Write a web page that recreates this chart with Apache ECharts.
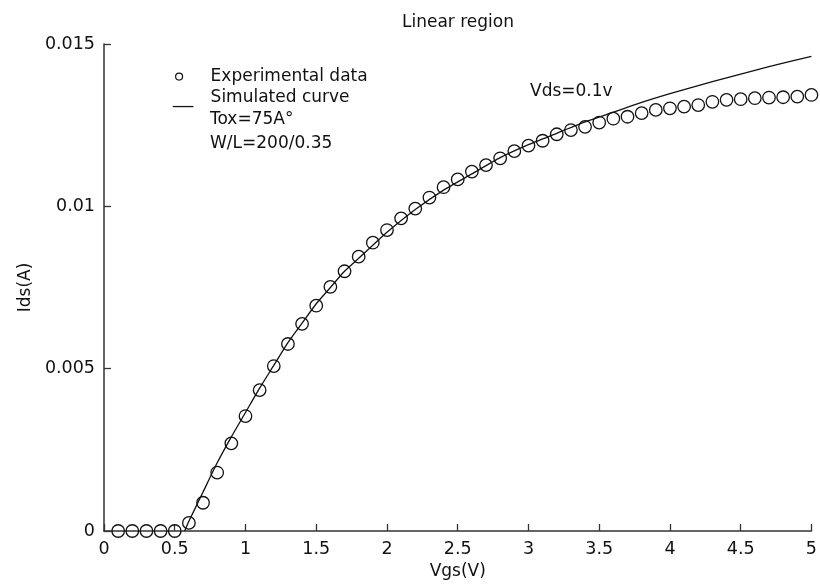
<!DOCTYPE html>
<html>
<head>
<meta charset="utf-8">
<script src="https://cdn.jsdelivr.net/npm/echarts@6/dist/echarts.min.js"></script>
<style>html,body{margin:0;padding:0;background:#fff}#c{width:820px;height:586px}</style>
</head>
<body>
<div id="c"></div>
<script>
const vgsExp = [0.1,0.2,0.3,0.4,0.5,0.6,0.7,0.8,0.9,1.0,1.1,1.2,1.3,1.4,1.5,1.6,1.7,1.8,1.9,2.0,2.1,2.2,2.3,2.4,2.5,2.6,2.7,2.8,2.9,3.0,3.1,3.2,3.3,3.4,3.5,3.6,3.7,3.8,3.9,4.0,4.1,4.2,4.3,4.4,4.5,4.6,4.7,4.8,4.9,5.0];
const idsExp = [0,0,0,0,0,0.00025,0.00087,0.0018,0.0027,0.00354,0.00434,0.00508,0.00576,0.00638,0.00694,0.00752,0.0080,0.00845,0.00888,0.00927,0.00963,0.00993,0.01027,0.01059,0.01083,0.01107,0.01127,0.01148,0.0117,0.01187,0.01202,0.01222,0.01235,0.01245,0.01258,0.0127,0.01276,0.01287,0.01297,0.01302,0.01307,0.01312,0.01322,0.01328,0.0133,0.01333,0.01335,0.01336,0.01338,0.01343];
const vgsSim = [0.57,0.6,0.7,0.8,0.9,1.0,1.1,1.2,1.3,1.4,1.5,1.6,1.7,1.8,1.9,2.0,2.2,2.4,2.6,2.8,3.0,3.2,3.4,3.6,3.8,4.0,4.2,4.4,4.6,4.8,5.0];
const idsSim = [0,0.0003,0.0012,0.0021,0.0029,0.00365,0.0044,0.0051,0.0058,0.0064,0.0070,0.0075,0.0080,0.0084,0.0088,0.0092,0.0099,0.0105,0.0110,0.0115,0.0119,0.01225,0.0126,0.0129,0.0132,0.01347,0.01372,0.01396,0.01419,0.01441,0.01462];
const xTicks = {min:0, max:5, interval:0.5};
const yTicks = {min:0, max:0.015, interval:0.005};
const titleText = 'Linear region';
const xName = 'Vgs(V)';
const yName = 'Ids(A)';
const expName = 'Experimental data';
const simName = 'Simulated curve';
const noteLines = ['Tox=75A\u00b0', 'W/L=200/0.35'];
const vdsNote = 'Vds=0.1v';

const FONT = 'DejaVu Sans';
const chart = echarts.init(document.getElementById('c'), null, {renderer:'canvas'});
chart.setOption({
  backgroundColor:'#fff',
  animation:false,
  title:{text:titleText, left:453, textAlign:'center', top:9,
    textStyle:{fontFamily:FONT, fontSize:17, fontWeight:'normal', color:'#111'}},
  grid:{left:104, right:8, top:44, bottom:55, containLabel:false},
  legend:{
    orient:'vertical', left:167, top:61, itemGap:0, itemWidth:21, itemHeight:20,
    textStyle:{fontFamily:FONT, fontSize:17, color:'#111', lineHeight:20, padding:[0,0,0,12]},
    data:[
      {name:expName, icon:'path://M0,0 M21,20 M10,10 A3.5,3.5 0 1,0 3,10 A3.5,3.5 0 1,0 10,10 Z',
        itemStyle:{color:'rgba(0,0,0,0)', borderColor:'#111', borderWidth:1.2}},
      {name:simName, icon:'path://M0,0 M0,19 L21,19 L21,20.3 L0,20.3 Z',
        itemStyle:{color:'#111', borderWidth:0}}
    ]
  },
  xAxis:{type:'value', min:xTicks.min, max:xTicks.max, interval:xTicks.interval,
    name:xName, nameLocation:'middle', nameGap:30,
    nameTextStyle:{fontFamily:FONT, fontSize:17, color:'#111'},
    axisLine:{show:true, onZero:false, lineStyle:{color:'#333', width:1.5}},
    axisTick:{show:true, inside:true, length:7, lineStyle:{color:'#333', width:1.3}},
    axisLabel:{fontFamily:FONT, fontSize:17.5, color:'#111', margin:9},
    splitLine:{show:false}},
  yAxis:{type:'value', min:yTicks.min, max:yTicks.max, interval:yTicks.interval,
    name:yName, nameLocation:'middle', nameGap:70, nameRotate:90,
    nameTextStyle:{fontFamily:FONT, fontSize:17, color:'#111'},
    axisLine:{show:true, onZero:false, lineStyle:{color:'#333', width:1.5}},
    axisTick:{show:true, inside:true, length:7, lineStyle:{color:'#333', width:1.3}},
    axisLabel:{fontFamily:FONT, fontSize:17.5, color:'#111', margin:9},
    splitLine:{show:false}},
  graphic:[
    {type:'text', left:210, top:111, style:{text:noteLines[0], font:'17px "DejaVu Sans"', fill:'#111'}},
    {type:'text', left:210, top:135, style:{text:noteLines[1], font:'17px "DejaVu Sans"', fill:'#111'}},
    {type:'text', left:530, top:83, style:{text:vdsNote, font:'17px "DejaVu Sans"', fill:'#111'}}
  ],
  series:[
    {name:simName, type:'line', symbol:'none', smooth:0.2,
      lineStyle:{color:'#111', width:1.3},
      data:vgsSim.map((x,i)=>[x, idsSim[i]]), z:3},
    {name:expName, type:'scatter', symbol:'circle', symbolSize:12.5,
      itemStyle:{color:'rgba(0,0,0,0)', borderColor:'#111', borderWidth:1.3, opacity:1},
      data:vgsExp.map((x,i)=>[x, idsExp[i]]), z:4}
  ]
});
</script>
</body>
</html>
